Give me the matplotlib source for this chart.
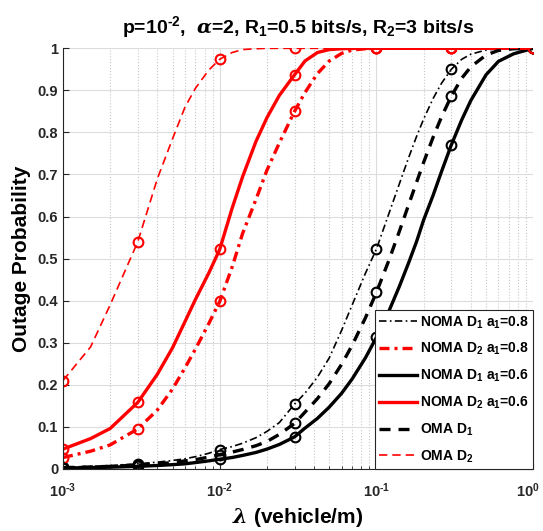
import numpy as np
import matplotlib; matplotlib.use("Agg")
import matplotlib.pyplot as plt
import matplotlib.transforms as mtrans
from matplotlib.ticker import LogLocator, NullFormatter, FixedLocator

plt.rcParams['font.family'] = ['Liberation Sans', 'DejaVu Sans']
plt.rcParams['font.weight'] = 'bold'
plt.rcParams['axes.titleweight'] = 'bold'
plt.rcParams['axes.labelweight'] = 'bold'
plt.rcParams['mathtext.fontset'] = 'custom'
plt.rcParams['mathtext.rm'] = 'Liberation Sans:bold'
plt.rcParams['mathtext.it'] = 'DejaVu Serif:italic'
plt.rcParams['mathtext.bf'] = 'Liberation Sans:bold'
plt.rcParams['mathtext.default'] = 'rm'

# lambda grid (vehicle/m) and outage values
lam = [1e-3, 1.5e-3, 2e-3, 3e-3, 4e-3, 5e-3, 6e-3, 7e-3, 8.5e-3, 1e-2, 1.2e-2, 1.4e-2, 1.7e-2,
       2e-2, 2.4e-2, 3e-2, 3.5e-2, 4.2e-2, 5e-2, 6e-2, 7e-2, 8.5e-2, 0.1, 0.12, 0.14, 0.16,
       0.18, 0.2, 0.23, 0.26, 0.3, 0.35, 0.4, 0.5, 0.6, 0.75, 1.0]
noma_d1_08 = [0.004, 0.006, 0.008, 0.012, 0.016, 0.020, 0.024, 0.029, 0.037, 0.046, 0.053, 0.061, 0.074,
              0.089, 0.11, 0.154, 0.18, 0.218, 0.264, 0.33, 0.39, 0.465, 0.523, 0.607, 0.678, 0.739,
              0.79, 0.832, 0.881, 0.917, 0.95, 0.974, 0.986, 0.996, 0.999, 1.0, 1.0]
noma_d2_08 = [0.027, 0.042, 0.057, 0.095, 0.14, 0.19, 0.24, 0.285, 0.345, 0.398, 0.48, 0.56, 0.64,
              0.71, 0.775, 0.85, 0.895, 0.94, 0.97, 0.988, 0.996, 0.999, 1.0, 1.0, 1.0, 1.0,
              1.0, 1.0, 1.0, 1.0, 1.0, 1.0, 1.0, 1.0, 1.0, 1.0, 1.0]
noma_d1_06 = [0.002, 0.003, 0.004, 0.006, 0.008, 0.010, 0.012, 0.015, 0.019, 0.023, 0.027, 0.032, 0.039,
              0.047, 0.058, 0.076, 0.097, 0.12, 0.147, 0.18, 0.214, 0.264, 0.313, 0.375, 0.434, 0.489,
              0.54, 0.592, 0.651, 0.707, 0.77, 0.83, 0.876, 0.937, 0.969, 0.987, 1.0]
noma_d2_06 = [0.047, 0.072, 0.096, 0.158, 0.225, 0.288, 0.35, 0.403, 0.465, 0.522, 0.62, 0.695, 0.778,
              0.835, 0.888, 0.937, 0.97, 0.99, 0.997, 0.999, 1.0, 1.0, 1.0, 1.0, 1.0, 1.0,
              1.0, 1.0, 1.0, 1.0, 1.0, 1.0, 1.0, 1.0, 1.0, 1.0, 1.0]
oma_d1 = [0.003, 0.0045, 0.006, 0.009, 0.012, 0.015, 0.019, 0.022, 0.028, 0.034, 0.04, 0.046, 0.055,
          0.065, 0.082, 0.108, 0.135, 0.167, 0.203, 0.249, 0.294, 0.359, 0.42, 0.496, 0.565, 0.627,
          0.681, 0.729, 0.789, 0.837, 0.886, 0.929, 0.956, 0.984, 0.995, 0.999, 1.0]
oma_d2 = [0.21, 0.29, 0.39, 0.54, 0.69, 0.785, 0.86, 0.905, 0.948, 0.974, 0.99, 0.997, 0.999,
          1.0, 1.0, 1.0, 1.0, 1.0, 1.0, 1.0, 1.0, 1.0, 1.0, 1.0, 1.0, 1.0,
          1.0, 1.0, 1.0, 1.0, 1.0, 1.0, 1.0, 1.0, 1.0, 1.0, 1.0]
mark_lam = [1e-3, 3e-3, 1e-2, 3e-2, 0.1, 0.3, 1.0]
xtick_labels = [r'10$^{\text{-3}}$', r'10$^{\text{-2}}$', r'10$^{\text{-1}}$', r'10$^{\text{0}}$']
ytick_labels = ['0', '0.1', '0.2', '0.3', '0.4', '0.5', '0.6', '0.7', '0.8', '0.9', '1']

labels = [r'NOMA D$_1$ a$_1$=0.8', r'NOMA D$_2$ a$_1$=0.8', r'NOMA D$_1$ a$_1$=0.6',
          r'NOMA D$_2$ a$_1$=0.6', r'OMA D$_1$', r'OMA D$_2$']
series = [noma_d1_08, noma_d2_08, noma_d1_06, noma_d2_06, oma_d1, oma_d2]
colors = ['k', 'r', 'k', 'r', 'k', 'r']
styles = [(0, (4.5, 2, 1, 2)), (0, (3, 1.5, 0.9, 1.5)), '-', '-', (0, (3.3, 2.4)), (0, (5, 3))]
widths = [1.2, 2.4, 2.4, 2.4, 2.4, 1.2]

fig = plt.figure(figsize=(5.43, 5.31), dpi=100)
ax = fig.add_axes([0.116, 0.117, 0.866, 0.792])

for y, c, ls, lw, lb in zip(series, colors, styles, widths, labels):
    ax.plot(lam, y, color=c, ls=ls, lw=lw, label=lb)
    ym = [y[lam.index(v)] for v in mark_lam]
    ax.plot(mark_lam, ym, ls='none', marker='o', ms=7, mfc='none', mec=c, mew=1.5)

ax.set_xscale('log')
ax.set_xlim(1e-3, 1)
ax.set_ylim(0, 1)
ax.xaxis.set_major_locator(FixedLocator([1e-3, 1e-2, 1e-1, 1]))
ax.set_xticklabels(xtick_labels)
ax.yaxis.set_major_locator(FixedLocator(np.arange(0, 1.01, 0.1)))
ax.set_yticklabels(ytick_labels)
ax.xaxis.set_minor_locator(LogLocator(base=10, subs=np.arange(2, 10), numticks=20))
ax.xaxis.set_minor_formatter(NullFormatter())
ax.grid(True, which='major', color='#dcdcdc', lw=0.8)
ax.grid(True, which='minor', axis='x', color='#c8c8c8', ls=':', lw=0.8)
ax.set_axisbelow(True)
ax.tick_params(direction='in', which='both', labelsize=10.5, colors='#262626',
               top=False, right=False)
ax.tick_params(which='major', length=4)
ax.tick_params(which='minor', length=2.5)
ax.tick_params(axis='x', pad=9)
for s in ['top', 'right']:
    ax.spines[s].set_visible(False)
for s in ['left', 'bottom']:
    ax.spines[s].set_color('#262626')
# nudge the last x tick label so it stays inside the canvas
last = ax.get_xticklabels()[-1]
last.set_transform(last.get_transform() + mtrans.ScaledTranslation(-4/72, 0, fig.dpi_scale_trans))

ax.set_xlabel(r'$\mathit{\lambda}$ (vehicle/m)', fontsize=15, labelpad=4)
ax.set_ylabel('Outage Probability', fontsize=15, labelpad=5)
ax.set_title(r'p=10$^{\text{-2}}$,  $\mathit{\alpha}$=2, R$_1$=0.5 bits/s, R$_2$=3 bits/s',
             fontsize=14, pad=11)

leg = ax.legend(loc='lower right', borderaxespad=0, fontsize=10, handlelength=2.7,
                fancybox=False, framealpha=1, edgecolor='#262626', labelspacing=0.75,
                handletextpad=0.25, borderpad=0.3)
leg.get_frame().set_linewidth(0.8)

fig.savefig('out.png', dpi=100)
